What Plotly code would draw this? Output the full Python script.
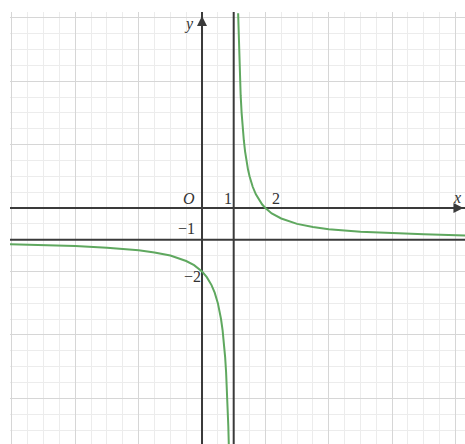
import plotly.graph_objects as go

# Right branch points
right_x = [1.14, 1.16, 1.18, 1.2, 1.22, 1.25, 1.28, 1.32, 1.36, 1.4, 1.45, 1.5, 1.6, 1.7, 1.8, 1.9,
           2.0, 2.2, 2.5, 3.0, 3.5, 4.0, 5.0, 6.0, 7.0, 8.4]
right_y = [6.14, 5.25, 4.56, 4.0, 3.55, 3.0, 2.57, 2.13, 1.78, 1.5, 1.22, 1.0, 0.67, 0.43, 0.25, 0.11,
           0.0, -0.17, -0.33, -0.5, -0.6, -0.67, -0.75, -0.8, -0.83, -0.87]
# Left branch points
left_x = [-6.2, -5.0, -4.0, -3.0, -2.0, -1.5, -1.0, -0.5, -0.25, 0.0, 0.15, 0.3, 0.4, 0.5, 0.55,
          0.6, 0.65, 0.7, 0.73, 0.76, 0.79, 0.81, 0.83, 0.845]
left_y = [-1.14, -1.17, -1.2, -1.25, -1.33, -1.4, -1.5, -1.67, -1.8, -2.0, -2.18, -2.43, -2.67,
          -3.0, -3.22, -3.5, -3.86, -4.33, -4.7, -5.17, -5.76, -6.26, -6.88, -7.45]

x_range = [-6.06, 8.3]
y_range = [-7.44, 6.18]
asym_x = 1
asym_y = -1

tick_labels = [
    ("<i>O</i>", -0.4, 0.3), ("1", 0.82, 0.3), ("2", 2.35, 0.3),
    ("\u22121", -0.5, -0.66), ("\u22122", -0.3, -2.15),
]

green = "#5fa85f"
dark = "#3a3a3a"

fig = go.Figure()
# axes
fig.add_trace(go.Scatter(x=x_range, y=[0, 0], mode="lines", line=dict(color=dark, width=2), hoverinfo="skip"))
fig.add_trace(go.Scatter(x=[0, 0], y=y_range, mode="lines", line=dict(color=dark, width=2), hoverinfo="skip"))
# asymptotes
fig.add_trace(go.Scatter(x=[asym_x, asym_x], y=y_range, mode="lines", line=dict(color=dark, width=2), hoverinfo="skip"))
fig.add_trace(go.Scatter(x=x_range, y=[asym_y, asym_y], mode="lines", line=dict(color=dark, width=2), hoverinfo="skip"))
# curves
fig.add_trace(go.Scatter(x=right_x, y=right_y, mode="lines", line=dict(color=green, width=2), hoverinfo="skip"))
fig.add_trace(go.Scatter(x=left_x, y=left_y, mode="lines", line=dict(color=green, width=2), hoverinfo="skip"))

# arrows
fig.add_annotation(x=0, y=6.05, ax=0, ay=5.4, xref="x", yref="y", axref="x", ayref="y",
                   showarrow=True, arrowhead=2, arrowsize=1, arrowwidth=2, arrowcolor=dark, text="")
fig.add_annotation(x=8.25, y=0, ax=7.7, ay=0, xref="x", yref="y", axref="x", ayref="y",
                   showarrow=True, arrowhead=2, arrowsize=1, arrowwidth=2, arrowcolor=dark, text="")

font = dict(family="Liberation Serif", size=16, color="#333")
for t, xx, yy in tick_labels:
    fig.add_annotation(x=xx, y=yy, text=t, showarrow=False, font=font)
fig.add_annotation(x=-0.4, y=5.8, text="<i>y</i>", showarrow=False, font=font)
fig.add_annotation(x=8.05, y=0.33, text="<i>x</i>", showarrow=False, font=font)

fig.update_layout(
    width=465, height=444, showlegend=False,
    margin=dict(l=10, r=0, t=12, b=0),
    plot_bgcolor="white", paper_bgcolor="white",
    xaxis=dict(range=x_range, dtick=2, tick0=0, showticklabels=False, ticks="", zeroline=False,
               showgrid=True, gridcolor="#d6d6d6", gridwidth=1,
               minor=dict(dtick=0.5, showgrid=True, gridcolor="#ececec", gridwidth=1)),
    yaxis=dict(range=y_range, dtick=2, tick0=0, showticklabels=False, ticks="", zeroline=False,
               showgrid=True, gridcolor="#d6d6d6", gridwidth=1,
               minor=dict(dtick=0.5, showgrid=True, gridcolor="#ececec", gridwidth=1)),
)
fig.write_html("out.html", config={"displayModeBar": False},
               post_script="document.body.style.margin='0';document.body.style.overflow='hidden';")
